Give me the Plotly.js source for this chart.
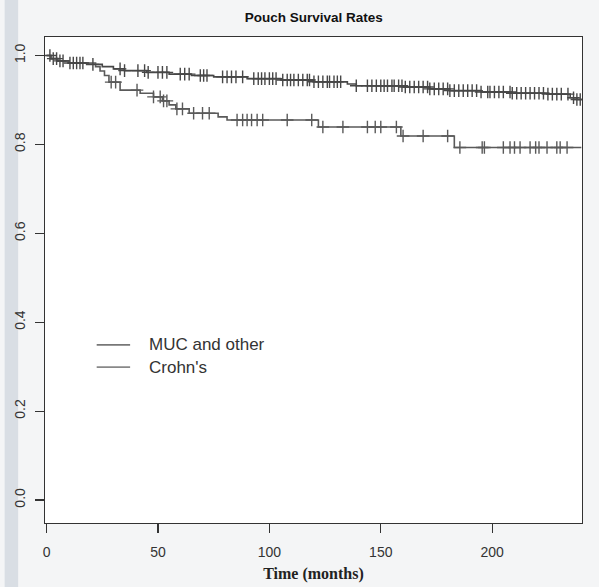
<!DOCTYPE html>
<html>
<head>
<meta charset="utf-8">
<script src="https://cdn.plot.ly/plotly-3.0.1.min.js"></script>
<style>
html,body{margin:0;padding:0;background:#f3f4f5;}
#chart{width:599px;height:587px;}
</style>
</head>
<body>
<div id="chart"></div>
<script>
// ---- data ----
const groups = ["MUC and other", "Crohn's"];

// MUC and other: event step times (months) and survival after each step
const mucTimes = [0, 2, 5, 10, 18, 25, 30, 35, 45, 55, 65, 75, 90, 105, 120, 135, 139, 160, 172, 181, 195, 209, 225, 235, 238, 240];
const mucSurv  = [1.0, 0.993, 0.988, 0.983, 0.980, 0.975, 0.970, 0.966, 0.962, 0.958, 0.955, 0.952, 0.948, 0.945, 0.941, 0.936, 0.932, 0.929, 0.925, 0.921, 0.918, 0.915, 0.913, 0.905, 0.901, 0.901];
const mucCensor = [1.5, 3, 4.5, 6, 7.4, 10.5, 12, 13.5, 15, 16.3, 20.8, 33, 35, 41, 44, 45.6, 50, 52, 54, 60, 62, 64, 69, 70.5, 72,
  79, 81, 83, 85, 88, 93, 95, 96.5, 98, 100, 101.5, 103, 106, 108, 109.5, 111, 113, 115, 117, 118, 120, 122, 124, 126, 127,
  129, 130.5, 132, 139, 144, 146, 148, 150, 151.5, 153, 155, 156, 158, 159.5, 161, 163, 165, 167, 169, 171, 172, 174, 176, 178, 180,
  181, 183, 185, 187, 189, 191, 193, 195, 198, 199, 201, 203, 205, 208, 209, 211, 213, 215, 217, 219, 221, 223, 225, 227, 229, 231, 234, 236.5, 238, 239.5];

// Crohn's
const crohnTimes = [0, 2, 5, 10, 22, 24, 26, 28, 33, 42, 48, 52, 55, 58, 64, 77, 81, 122, 159, 183, 240];
const crohnSurv  = [1.0, 0.993, 0.988, 0.983, 0.975, 0.965, 0.955, 0.940, 0.922, 0.915, 0.907, 0.898, 0.889, 0.880, 0.870, 0.862, 0.855, 0.839, 0.819, 0.793, 0.793];
const crohnCensor = [29, 31, 40.6, 48, 51, 52.5, 54, 58.5, 61, 66, 70, 73, 85.5, 88, 90, 92, 94.5, 97, 108, 119, 124,
  133, 144, 147.5, 150, 157, 160, 169, 180, 185.5, 195.5, 196.5, 205, 208, 210, 212.5, 217, 219.5, 221, 224.6, 229, 230.5, 233.6];

const xTicks = [0, 50, 100, 150, 200];
const yTicks = [0.0, 0.2, 0.4, 0.6, 0.8, 1.0];
const yTickText = ["0.0", "0.2", "0.4", "0.6", "0.8", "1.0"];

// ---- helpers ----
function survAt(times, vals, t) {
  let v = vals[0];
  for (let i = 0; i < times.length; i++) { if (times[i] <= t) v = vals[i]; }
  return v;
}

const mucColor = "#474747";
const crohnColor = "#5a5a5a";

const traces = [
  {x: mucTimes, y: mucSurv, mode: "lines", line: {shape: "hv", color: mucColor, width: 1.6}, showlegend: false, hoverinfo: "skip"},
  {x: crohnTimes, y: crohnSurv, mode: "lines", line: {shape: "hv", color: crohnColor, width: 1.6}, showlegend: false, hoverinfo: "skip"},
  {x: mucCensor, y: mucCensor.map(t => survAt(mucTimes, mucSurv, t)), mode: "markers",
   marker: {symbol: "cross-thin", size: 9, color: mucColor, line: {color: mucColor, width: 1.4}}, showlegend: false, hoverinfo: "skip"},
  {x: crohnCensor, y: crohnCensor.map(t => survAt(crohnTimes, crohnSurv, t)), mode: "markers",
   marker: {symbol: "cross-thin", size: 9, color: crohnColor, line: {color: crohnColor, width: 1.4}}, showlegend: false, hoverinfo: "skip"}
];

const layout = {
  width: 599, height: 587,
  margin: {l: 45, r: 17, t: 37, b: 64},
  paper_bgcolor: "#f4f5f6",
  plot_bgcolor: "#ffffff",
  title: {text: "<b>Pouch Survival Rates</b>", x: 0.5237, xanchor: "center", y: 0.971, yanchor: "middle",
          font: {family: "Liberation Sans, Arial, sans-serif", size: 13.5, color: "#111"}},
  xaxis: {
    range: [-0.7, 240.3], tickvals: xTicks, ticktext: xTicks.map(String),
    ticks: "outside", ticklen: 9, tickwidth: 1.2, tickcolor: "#333",
    showline: true, linecolor: "#333", linewidth: 1.4, mirror: true,
    showgrid: false, zeroline: false, ticklabelstandoff: 7,
    tickfont: {family: "Liberation Sans, Arial, sans-serif", size: 14, color: "#333"},
    title: {text: "<b>Time (months)</b>", standoff: 8,
            font: {family: "Liberation Serif, Times New Roman, serif", size: 16, color: "#222"}}
  },
  yaxis: {
    range: [-0.0517, 1.0416], tickvals: yTicks, ticktext: yTickText, tickangle: -90,
    ticks: "outside", ticklen: 9, tickwidth: 1.2, tickcolor: "#333",
    showline: true, linecolor: "#333", linewidth: 1.4, mirror: true,
    showgrid: false, zeroline: false, ticklabelstandoff: 4,
    tickfont: {family: "Liberation Sans, Arial, sans-serif", size: 14, color: "#333"}
  },
  shapes: [
    {type: "rect", xref: "paper", yref: "paper", x0: -0.0751, x1: -0.05, y0: -0.14, y1: 1.08, fillcolor: "#d9dee4", line: {width: 0}, layer: "below"},
    {type: "line", xref: "x", yref: "y", x0: 22.5, x1: 37.5, y0: 0.349, y1: 0.349, line: {color: "#777", width: 1.8}},
    {type: "line", xref: "x", yref: "y", x0: 22.5, x1: 37.5, y0: 0.299, y1: 0.299, line: {color: "#888", width: 1.8}}
  ],
  annotations: [
    {text: groups[0], xref: "x", yref: "y", x: 45, y: 0.349, xanchor: "left", yanchor: "middle", showarrow: false,
     font: {family: "Liberation Sans, Arial, sans-serif", size: 17, color: "#333"}},
    {text: groups[1], xref: "x", yref: "y", x: 45, y: 0.299, xanchor: "left", yanchor: "middle", showarrow: false,
     font: {family: "Liberation Sans, Arial, sans-serif", size: 17, color: "#333"}}
  ]
};

Plotly.newPlot("chart", traces, layout, {displayModeBar: false, staticPlot: true});
</script>
</body>
</html>
